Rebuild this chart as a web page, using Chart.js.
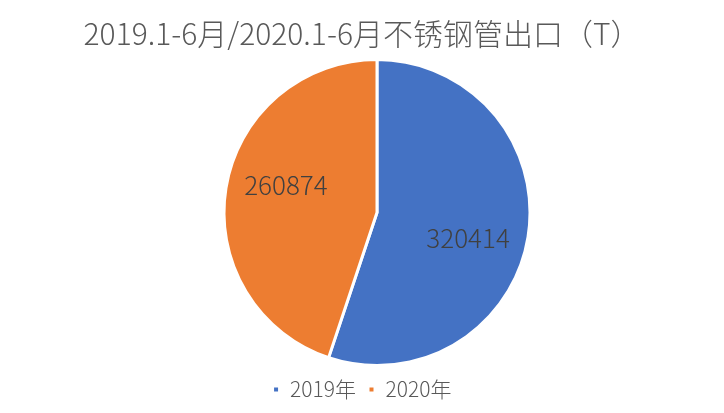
<!DOCTYPE html>
<html lang="zh-CN">
<head>
  <meta charset="UTF-8">
  <title>不锈钢管出口</title>
  <script src="https://cdn.jsdelivr.net/npm/chart.js"></script>
  <style>
    html, body { margin: 0; padding: 0; background: #ffffff; }
    #wrap { width: 724px; height: 413px; }
  </style>
</head>
<body>
  <div id="wrap">
    <canvas id="pieChart" width="724" height="413"></canvas>
  </div>

  <script>
    const titulo = '2019.1-6月/2020.1-6月不锈钢管出口（T）';
    const anos = ['2019年', '2020年'];
    const toneladas = [320414, 260874];
    const cores = ['#4472C4', '#ED7D31'];

    const fonte = "'Noto Sans CJK SC', 'Noto Sans', sans-serif";

    // empurra a pizza um pouco para a direita, como no original
    const deslocaPizza = {
      id: 'deslocaPizza',
      afterLayout(chart) {
        chart.chartArea.left += 30;
        chart.chartArea.width = chart.chartArea.right - chart.chartArea.left;
      }
    };

    // valores dentro das fatias (um pouco girados, como no Excel)
    const rotulos = {
      id: 'rotulos',
      afterDatasetsDraw(chart) {
        const ctx = chart.ctx;
        const meta = chart.getDatasetMeta(0);
        ctx.save();
        ctx.font = '300 26px ' + fonte;
        ctx.fillStyle = '#404040';
        ctx.textAlign = 'center';
        ctx.textBaseline = 'middle';
        meta.data.forEach((arc, i) => {
          const meio = (arc.startAngle + arc.endAngle) / 2 + 7 * Math.PI / 180;
          const r = arc.outerRadius * 0.62;
          const x = arc.x + Math.cos(meio) * r;
          const y = arc.y + Math.sin(meio) * r - 1;
          ctx.fillText(String(toneladas[i]), x, y);
        });
        ctx.restore();
      }
    };

    new Chart(document.getElementById('pieChart'), {
      type: 'pie',
      data: {
        labels: anos,
        datasets: [{
          data: toneladas,
          backgroundColor: cores,
          borderColor: '#ffffff',
          borderWidth: 3
        }]
      },
      options: {
        responsive: false,
        animation: false,
        layout: { padding: { bottom: 3 } },
        plugins: {
          title: {
            display: true,
            text: titulo,
            color: '#595959',
            font: { family: fonte, size: 30, weight: 300 },
            padding: { top: 16, bottom: 6 }
          },
          legend: {
            position: 'bottom',
            labels: {
              color: '#595959',
              font: { family: fonte, size: 21, weight: 300 },
              usePointStyle: true,
              pointStyle: 'rect',
              boxWidth: 7,
              boxHeight: 7,
              padding: 12
            }
          },
          tooltip: { enabled: false }
        }
      },
      plugins: [deslocaPizza, rotulos]
    });
  </script>
</body>
</html>
